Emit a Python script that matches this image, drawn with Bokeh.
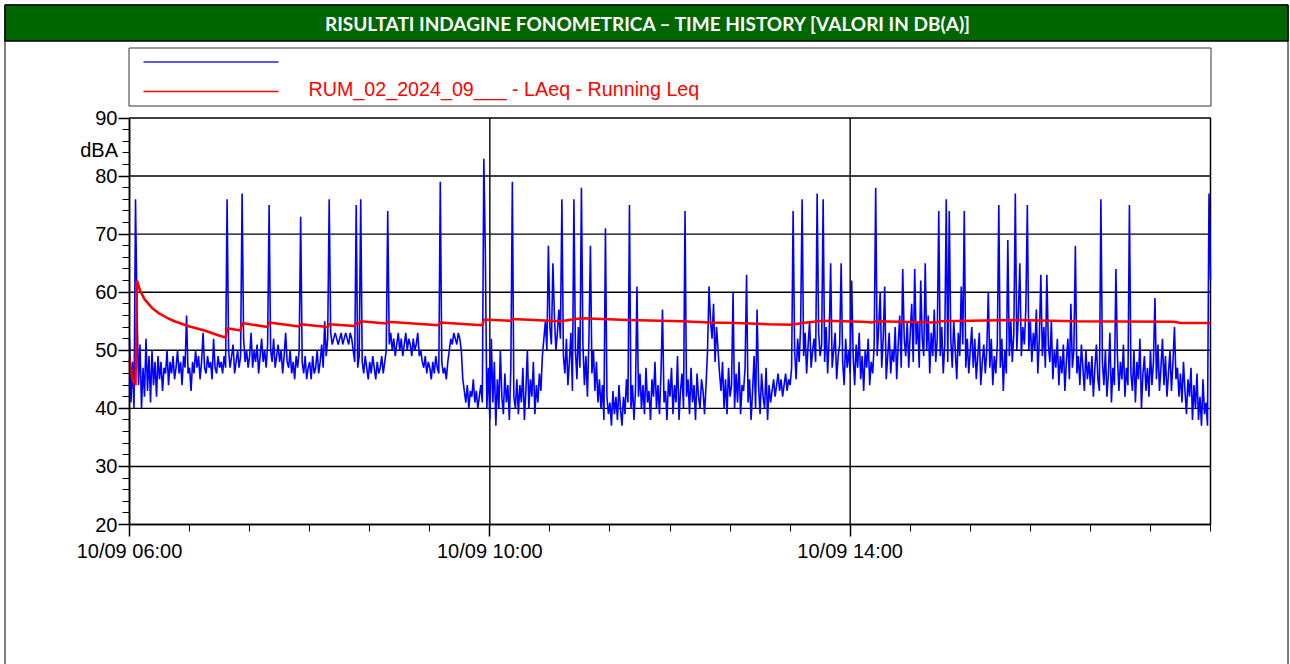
import pandas as pd
from bokeh.plotting import figure
from bokeh.models import (FixedTicker, DatetimeTickFormatter, Label, Range1d,
                          ColumnDataSource, LinearAxis, DatetimeAxis)
from bokeh.embed import file_html
from bokeh.resources import INLINE

# ---------------- data ----------------
START = "2024-09-10 06:00"
END = "2024-09-10 18:00"
major_tick_times = ["2024-09-10 06:00", "2024-09-10 10:00", "2024-09-10 14:00"]
minor_tick_step_minutes = 40
y_ticks = [20, 30, 40, 50, 60, 70, 80, 90]
y_minor_ticks = list(range(20, 91, 2))

title_text = "RISULTATI INDAGINE FONOMETRICA – TIME HISTORY [VALORI IN DB(A)]"
legend_label = "RUM_02_2024_09___ - LAeq - Running Leq"
unit_label = "dBA"

# LAeq, one value per minute from 06:00 (dB(A))
laeq_values = [
    52, 41, 48, 40, 76, 57, 44, 51, 40, 47, 42, 52, 43, 49, 41, 50, 44, 48, 42, 49,
    45, 48, 43, 47, 46, 50, 44, 48, 46, 49, 45, 47, 50, 46, 48, 44, 49, 47, 56, 46,
    47, 43, 48, 46, 50, 47, 49, 45, 48, 53, 47, 46, 49, 47, 48, 45, 52, 47, 46, 49,
    47, 48, 46, 49, 47, 76, 50, 47, 49, 51, 46, 48, 50, 47, 49, 77, 52, 48, 50, 47,
    49, 53, 47, 50, 48, 51, 46, 49, 52, 48, 50, 47, 51, 75, 50, 48, 52, 47, 49, 51,
    48, 50, 46, 49, 53, 48, 47, 50, 46, 48, 45, 49, 47, 50, 73, 48, 46, 49, 45, 47,
    48, 45, 49, 46, 47, 50, 46, 48, 51, 47, 55, 49, 52, 76, 53, 51, 52, 53, 52, 51,
    52, 53, 51, 52, 53, 52, 51, 53, 52, 50, 48, 75, 47, 49, 76, 48, 46, 49, 47, 45,
    48, 46, 49, 47, 45, 48, 46, 47, 49, 46, 48, 50, 74, 51, 53, 50, 52, 49, 51, 53,
    50, 52, 49, 51, 53, 50, 52, 51, 49, 52, 50, 51, 53, 49, 50, 48, 47, 49, 46, 48,
    47, 45, 48, 46, 49, 47, 46, 79, 48, 46, 47, 45, 48, 50, 52, 51, 53, 52, 51, 53,
    52, 50, 45, 43, 41, 44, 40, 43, 42, 45, 41, 43, 40, 42, 44, 41, 83, 67, 40, 47,
    38, 52, 41, 48, 37, 45, 40, 50, 42, 39, 46, 41, 44, 38, 47, 79, 42, 40, 45, 39,
    44, 41, 47, 38, 43, 50, 40, 45, 42, 48, 39, 44, 41, 46, 43, 49, 52, 55, 50, 68,
    54, 51, 65, 56, 50, 53, 57, 52, 76, 49, 46, 52, 44, 48, 53, 43, 76, 50, 45, 54,
    47, 78, 51, 44, 49, 42, 52, 68, 46, 50, 43, 48, 41, 45, 40, 44, 38, 71, 42, 39,
    41, 37, 43, 39, 42, 38, 44, 40, 37, 42, 39, 45, 41, 75, 40, 44, 38, 43, 61, 42,
    46, 40, 44, 39, 47, 41, 43, 38, 45, 42, 48, 40, 44, 39, 46, 57, 41, 43, 38, 45,
    42, 47, 39, 44, 41, 49, 38, 43, 46, 40, 74, 42, 45, 39, 47, 41, 44, 38, 46, 42,
    40, 45, 43, 39, 44, 50, 61, 55, 52, 58, 48, 54, 50, 46, 43, 48, 40, 45, 39, 47,
    42, 44, 60, 40, 46, 41, 48, 39, 44, 43, 47, 63, 41, 45, 38, 43, 49, 40, 57, 44,
    39, 46, 42, 40, 47, 38, 44, 41, 43, 45, 42, 44, 46, 43, 45, 42, 44, 46, 43, 45,
    44, 47, 74, 50, 45, 52, 48, 54, 76, 49, 53, 46, 51, 55, 47, 50, 52, 48, 77, 53,
    49, 51, 76, 48, 54, 46, 52, 65, 47, 50, 53, 45, 49, 51, 65, 48, 44, 52, 47, 50,
    46, 62, 49, 44, 51, 47, 53, 45, 49, 43, 50, 47, 52, 44, 48, 46, 51, 78, 49, 54,
    60, 47, 52, 61, 45, 49, 53, 46, 50, 48, 54, 45, 51, 56, 47, 64, 52, 49, 55, 47,
    53, 58, 48, 64, 51, 55, 47, 62, 52, 49, 65, 50, 56, 46, 53, 49, 57, 48, 52, 74,
    49, 54, 46, 51, 76, 48, 74, 52, 47, 55, 50, 45, 53, 49, 61, 51, 74, 47, 52, 46,
    50, 54, 47, 52, 45, 49, 53, 44, 48, 51, 46, 50, 60, 47, 52, 44, 49, 46, 51, 75,
    47, 52, 43, 50, 46, 69, 49, 55, 48, 53, 77, 50, 56, 65, 49, 54, 51, 57, 75, 50,
    55, 48, 53, 50, 57, 46, 52, 63, 49, 54, 47, 63, 51, 48, 55, 45, 50, 47, 52, 44,
    49, 46, 51, 43, 48, 52, 45, 58, 47, 50, 68, 46, 49, 44, 51, 47, 43, 50, 45, 48,
    44, 49, 42, 47, 51, 45, 43, 76, 48, 44, 50, 42, 46, 53, 41, 47, 44, 64, 49, 43,
    48, 45, 51, 42, 47, 44, 75, 46, 43, 50, 41, 48, 45, 52, 40, 46, 49, 43, 47, 42,
    50, 44, 48, 59, 45, 51, 43, 47, 52, 44, 49, 42, 46, 50, 43, 48, 54, 45, 47, 42,
    46, 41, 48, 43, 39, 45, 42, 47, 38, 44, 40, 46, 38, 42, 37, 45, 39, 41, 37, 77,
    62,
]

# Running Leq: minutes after 06:00 and values
running_leq_minutes = [0, 2, 4, 5, 7, 10, 15, 20, 25, 30,
                       40, 50, 60, 64, 65, 74, 75, 92, 93, 113,
                       114, 132, 133, 150, 151, 153, 154, 171, 172, 206,
                       207, 235, 236, 254, 255, 287, 301, 332, 368, 386,
                       404, 426, 441, 448, 462, 488, 495, 497, 538, 540,
                       590, 630, 696, 700, 720]
running_leq_values = [48.5, 45.0, 44.0, 62.0, 60.3, 58.8, 57.3, 56.3, 55.6, 55.0,
                      54.1, 53.4, 52.5, 52.2, 53.8, 53.4, 54.7, 54.0, 54.8, 54.1,
                      54.5, 54.0, 54.5, 54.2, 54.7, 54.6, 55.0, 54.6, 54.9, 54.3,
                      54.8, 54.3, 55.3, 55.1, 55.4, 55.0, 55.5, 55.2, 55.0, 54.8,
                      54.7, 54.5, 54.4, 54.7, 55.1, 54.9, 54.8, 55.0, 54.8, 55.0,
                      55.2, 55.0, 54.9, 54.7, 54.7]

# ---------------- layout (pixels of the page) ----------------
W, H = 1290, 664
PLOT_L, PLOT_R, PLOT_T, PLOT_B = 129, 1210, 117.5, 524
Y_MIN, Y_MAX = 20, 90

MS_MIN = 60000
t0 = pd.Timestamp(START).value // 10**6
t1 = pd.Timestamp(END).value // 10**6
K = (t1 - t0) / (PLOT_R - PLOT_L)          # ms per pixel
PY = (PLOT_B - PLOT_T) / (Y_MAX - Y_MIN)    # pixels per dB
x_start, x_end = t0 - PLOT_L * K, t0 + (W - PLOT_L) * K
y_end, y_start = Y_MAX + PLOT_T / PY, Y_MIN - (H - PLOT_B) / PY


def xd(px):
    return x_start + px * K


def yd(py):
    return y_end - py / PY


blue_src = ColumnDataSource(dict(
    t=[t0 + i * MS_MIN for i in range(len(laeq_values))], v=laeq_values))
red_src = ColumnDataSource(dict(
    t=[t0 + m * MS_MIN for m in running_leq_minutes], v=running_leq_values))

p = figure(width=W, height=H, x_range=Range1d(x_start, x_end),
           y_range=Range1d(y_start, y_end), x_axis_type=None, y_axis_type=None,
           output_backend="svg", toolbar_location=None, min_border=0)
p.title.visible = False
p.background_fill_color = "white"
p.border_fill_color = "white"
p.outline_line_color = None
p.xgrid.visible = False
p.ygrid.visible = False

# ---- page decorations: outer frame, title bar, legend ----
p.quad(left=[xd(4.5)], right=[xd(1287.5)], top=[yd(4.5)], bottom=[yd(H + 50)],
       fill_color=None, line_color="black", line_width=1)
p.quad(left=[xd(4.5)], right=[xd(1287.5)], top=[yd(4.5)], bottom=[yd(40.5)],
       fill_color="#006600", line_color="black", line_width=1.5)
p.add_layout(Label(x=xd(648), y=yd(23), text=title_text, text_align="center",
                   text_baseline="middle", text_color="white", text_font="Lato",
                   text_font_style="bold", text_font_size="19px"))

p.quad(left=[xd(128.5)], right=[xd(1210.5)], top=[yd(47.5)], bottom=[yd(105.5)],
       fill_color=None, line_color="#333333", line_width=1)
p.segment(x0=[xd(143)], y0=[yd(61.5)], x1=[xd(278)], y1=[yd(61.5)],
          line_color="#2020FF", line_width=1.3)
p.segment(x0=[xd(143)], y0=[yd(91)], x1=[xd(278)], y1=[yd(91)],
          line_color="#FF0000", line_width=1.5)
p.add_layout(Label(x=xd(308), y=yd(88), text=legend_label, text_align="left",
                   text_baseline="alphabetic", text_color="#FF0000",
                   text_font="Liberation Sans", text_font_size="19.7px"))
p.add_layout(Label(x=xd(117.5), y=yd(149), text=unit_label, text_align="right",
                   text_baseline="middle", text_color="black",
                   text_font="Liberation Sans", text_font_size="20px"))

# ---- plot area: grid lines and border ----
major_ms = [pd.Timestamp(s).value // 10**6 for s in major_tick_times]
minor_ms = list(range(t0, t1 + 1, minor_tick_step_minutes * MS_MIN))
hgrid = y_ticks[1:-1]
p.segment(x0=[t0] * len(hgrid), y0=hgrid, x1=[t1] * len(hgrid), y1=hgrid,
          line_color="black", line_width=1.4)
vgrid = major_ms[1:]
p.segment(x0=vgrid, y0=[Y_MIN] * len(vgrid), x1=vgrid, y1=[Y_MAX] * len(vgrid),
          line_color="black", line_width=1.4)
p.quad(left=[t0], right=[t1], bottom=[Y_MIN], top=[Y_MAX],
       fill_color=None, line_color="black", line_width=1.5)

# ---- series ----
p.line("t", "v", source=blue_src, line_color="#0000FF", line_width=1.6)
p.line("t", "v", source=red_src, line_color="#FF0000", line_width=2.5)

# ---- axes placed at the plot-area edges ----
fmt = "%d/%m %H:%M"
xa = DatetimeAxis(fixed_location=Y_MIN, bounds=(t0, t1),
                  ticker=FixedTicker(ticks=major_ms, minor_ticks=minor_ms),
                  formatter=DatetimeTickFormatter(
                      microseconds=fmt, milliseconds=fmt, seconds=fmt, minsec=fmt,
                      minutes=fmt, hourmin=fmt, hours=fmt, days=fmt, months=fmt,
                      years=fmt))
ya = LinearAxis(fixed_location=t0, bounds=(Y_MIN, Y_MAX),
                ticker=FixedTicker(ticks=y_ticks, minor_ticks=y_minor_ticks))
for ax in (xa, ya):
    ax.axis_line_color = "black"
    ax.axis_line_width = 1.5
    ax.major_tick_in = 0
    ax.minor_tick_in = 0
    ax.major_tick_line_color = "black"
    ax.minor_tick_line_color = "black"
    ax.major_tick_line_width = 1.5
    ax.minor_tick_line_width = 1
    ax.major_label_text_font = "Liberation Sans"
    ax.major_label_text_font_size = "20px"
    ax.major_label_text_color = "black"
xa.major_tick_out = 12
xa.minor_tick_out = 7
xa.major_label_standoff = 3
ya.major_tick_out = 11
ya.minor_tick_out = 7
ya.major_label_standoff = 1
p.add_layout(xa, "below")
p.add_layout(ya, "left")

open("out.html", "w").write(file_html(p, INLINE))
